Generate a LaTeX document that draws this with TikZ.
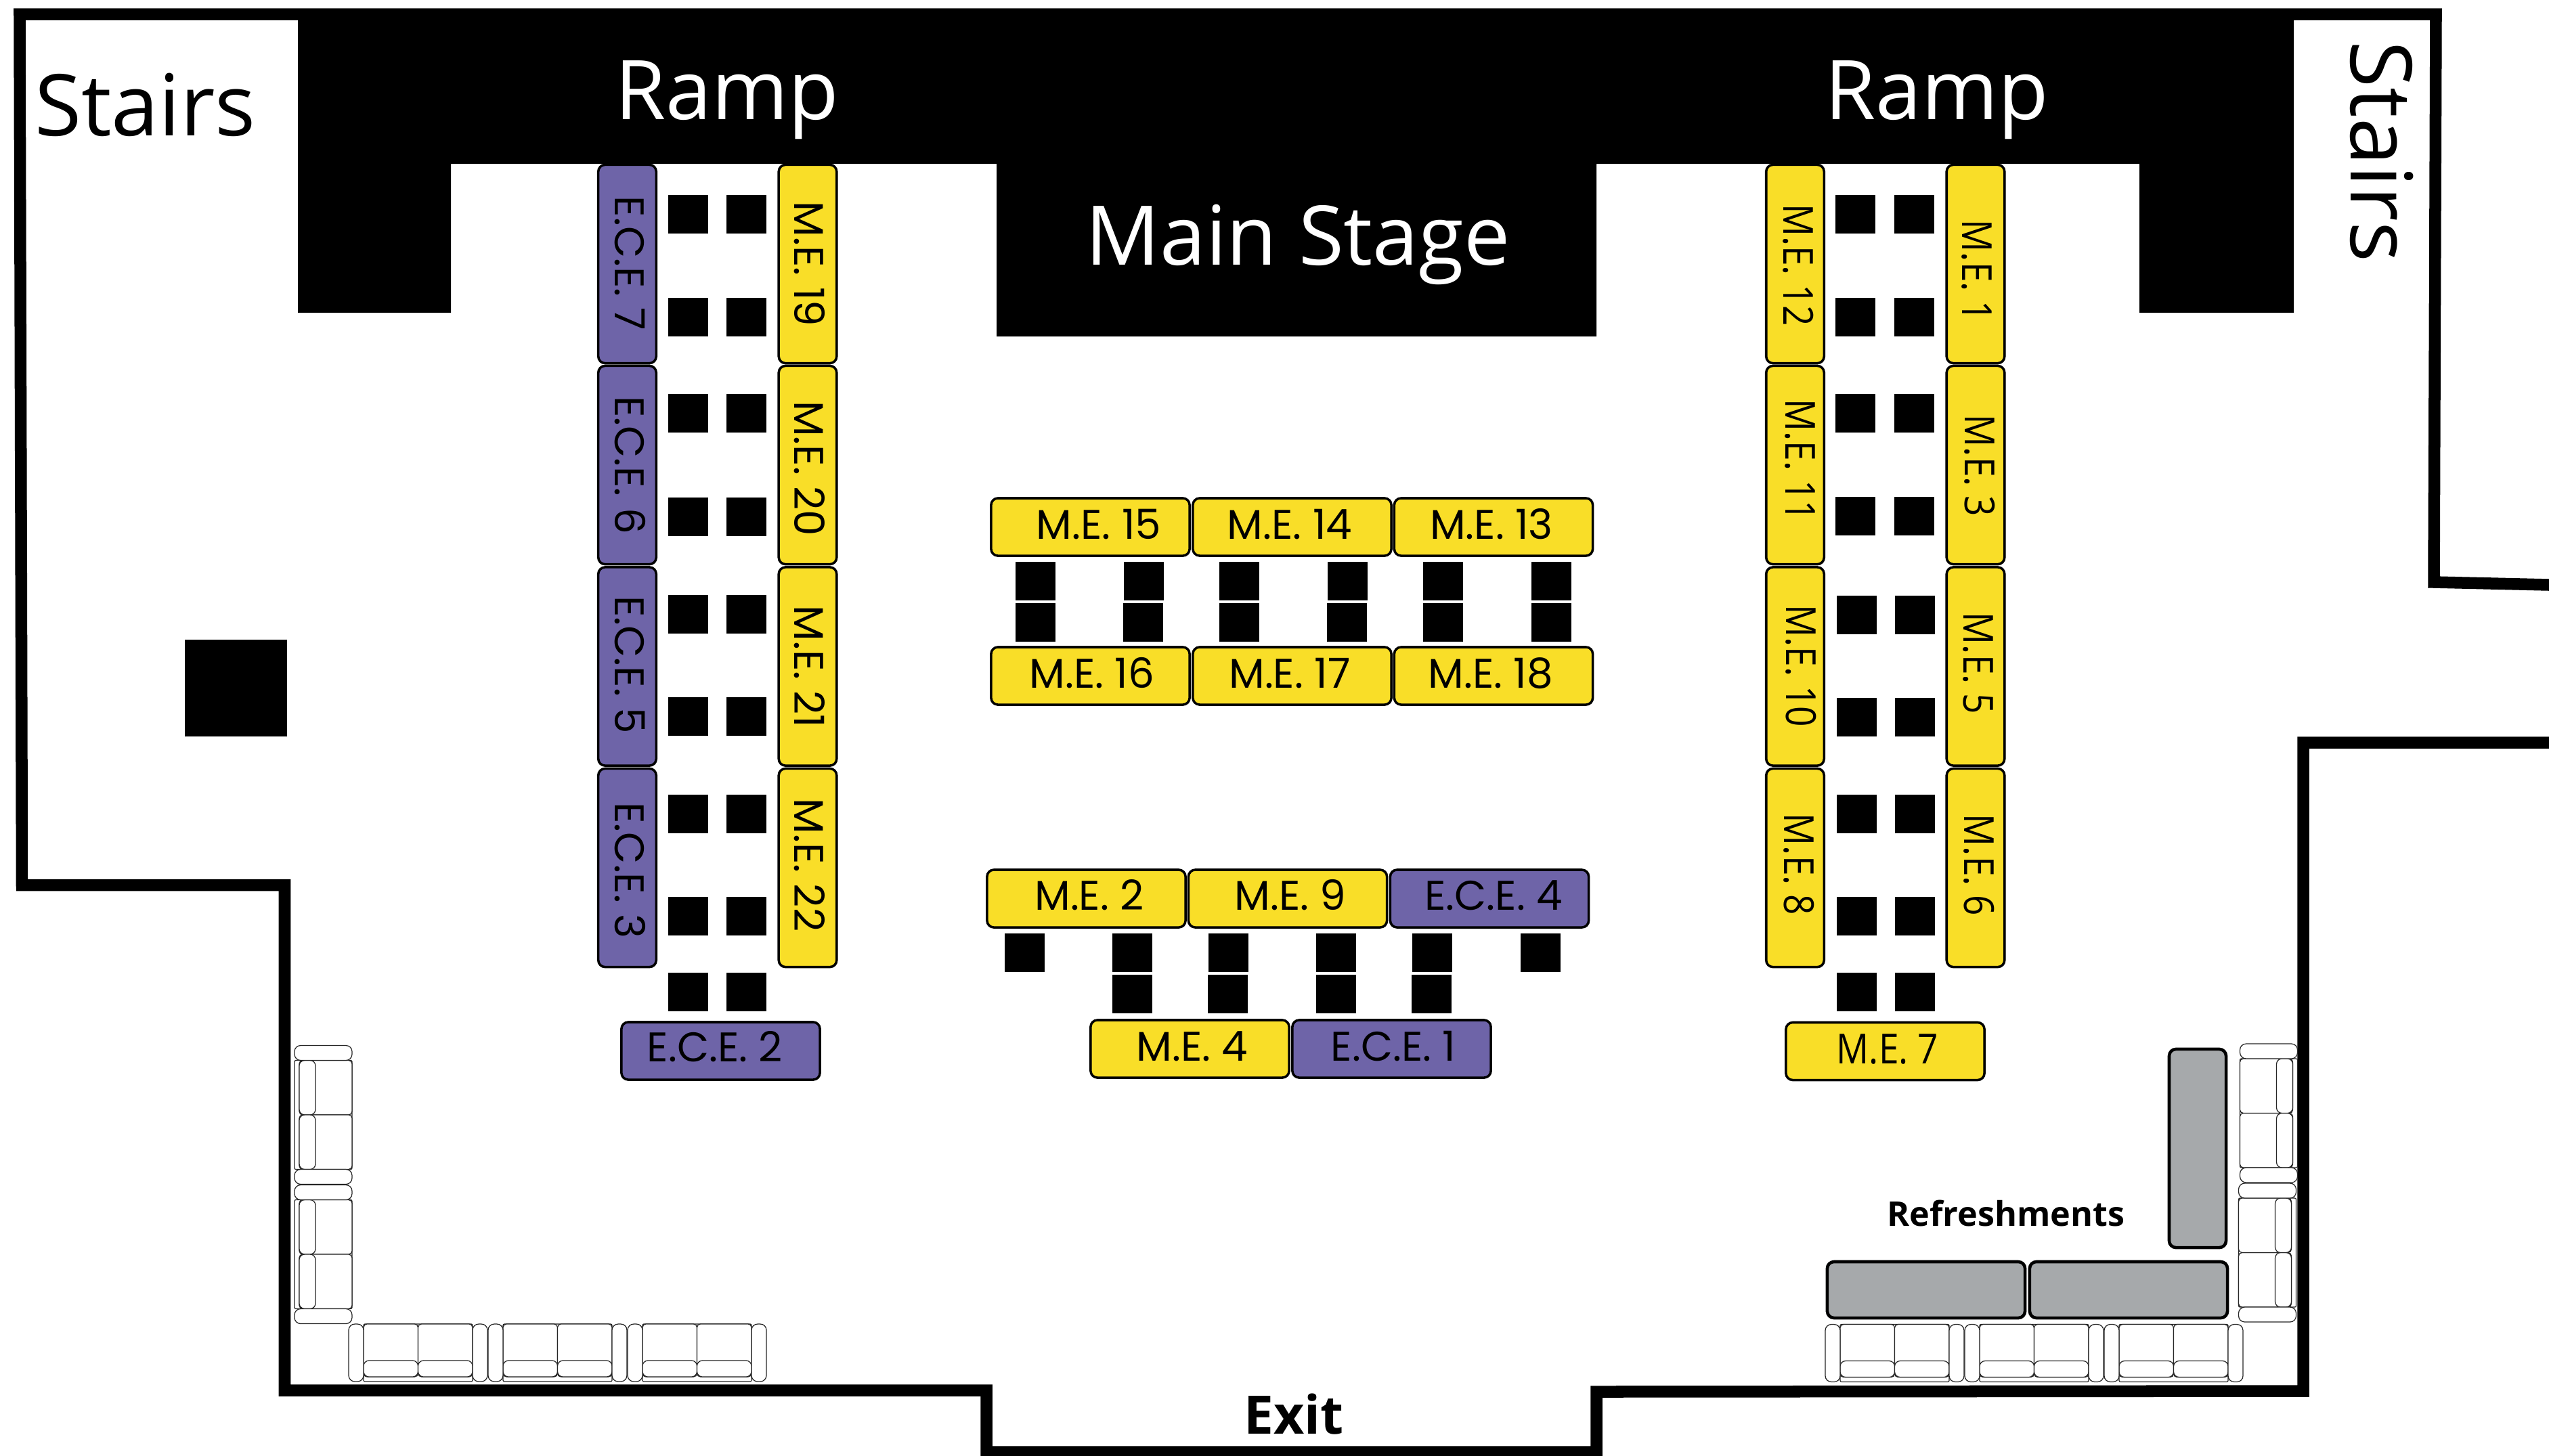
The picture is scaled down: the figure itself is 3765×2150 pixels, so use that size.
\documentclass[tikz,border=0pt]{standalone}
\usepackage{fontspec}
\setmainfont{Open Sans}
\newfontfamily\geofont{Poppins}
\newfontfamily\humfont[FakeStretch=0.87]{Open Sans}
\definecolor{stallyellow}{HTML}{F9DE28}
\definecolor{stallpurple}{HTML}{6E64A8}
\definecolor{tablegray}{HTML}{A6A9AB}
\tikzset{
  wall/.style={draw=black,line width=1.75mm,miter limit=10},
  stallbase/.style={draw=black,line width=1pt,rounded corners=0.1cm,inner sep=0pt},
  vbox/.style={stallbase,minimum width=0.855cm,minimum height=2.93cm},
  hbox/.style={stallbase,minimum width=2.93cm,minimum height=0.85cm},
  me/.style={fill=stallyellow},
  ece/.style={fill=stallpurple},
  lab/.style={inner sep=0pt,text height=12.2pt,text depth=0pt,font=\geofont\fontsize{17.4}{20}\selectfont},
  labh/.style={inner sep=0pt,text height=12.4pt,text depth=0pt,font=\humfont\fontsize{17.4}{20}\selectfont},
  big/.style={inner sep=0pt,anchor=base,font=\fontsize{34.6}{40}\selectfont},
  bigs/.style={inner sep=0pt,anchor=base,font=\fontsize{35.8}{40}\selectfont},
  tablebox/.style={draw=black,line width=1.3pt,fill=tablegray,rounded corners=0.1cm,inner sep=0pt},
  sofaline/.style={draw=black!85,line width=0.35pt,fill=white},
  pics/sofa/.style={code={
    \path[sofaline,rounded corners=0.02cm] (-80.5,-42.5) rectangle (80.5,42.5);
    \path[sofaline,rounded corners=0.05cm] (-80.5,-42.5) rectangle (0,35.5);
    \path[sofaline,rounded corners=0.05cm] (0,-42.5) rectangle (80.5,35.5);
    \path[sofaline,rounded corners=0.08cm] (-80.5,11.5) rectangle (0,35.5);
    \path[sofaline,rounded corners=0.08cm] (0,11.5) rectangle (80.5,35.5);
    \path[sofaline,rounded corners=0.09cm] (-102.5,-42.5) rectangle (-80.5,42.5);
    \path[sofaline,rounded corners=0.09cm] (80.5,-42.5) rectangle (102.5,42.5);
  }}
}
\begin{document}
\begin{tikzpicture}[x=0.01cm,y=-0.01cm]
\useasboundingbox (0,0) rectangle (3765,2150);
\fill[white] (0,0) rectangle (3765,2150);
% stage and ramps
\fill[black] (440,21) -- (3388,21) -- (3388,462) -- (3160,462) -- (3160,242) -- (2358,242) -- (2358,497) -- (1472,497) -- (1472,242) -- (666,242) -- (666,462) -- (440,462) -- cycle;
% walls
\path[wall] (3765,864) -- (3595,860) -- (3598,21) -- (29,21) -- (32.5,1307.5) -- (420.5,1307.5) -- (420.5,2054) -- (1457,2054) -- (1457,2145) -- (2358,2145) -- (2358,2056) -- (3402,2055) -- (3402,1097) -- (3765,1097);
% pillar
\fill[black] (273,945) rectangle (424,1088);
% seats
\foreach \ya/\yb in {288/345,440/497,582/639,735/792,879/936,1030/1087,1174/1231,1325/1382,1437/1494}{
  \fill[black] (987,\ya) rectangle (1046,\yb);
  \fill[black] (1073,\ya) rectangle (1132,\yb);
}
\foreach \ya/\yb in {288/345,440/497,582/639,734/791}{
  \fill[black] (2711,\ya) rectangle (2770,\yb);
  \fill[black] (2798,\ya) rectangle (2857,\yb);
}
\foreach \ya/\yb in {880/937,1031/1088,1174/1231,1325/1382,1437/1494}{
  \fill[black] (2713,\ya) rectangle (2772,\yb);
  \fill[black] (2799,\ya) rectangle (2858,\yb);
}
\foreach \xa/\xb in {1500/1559,1660/1719,1801/1860,1961/2020,2102/2161,2262/2321}{
  \fill[black] (\xa,830) rectangle (\xb,887);
}
\foreach \xa/\xb in {1500/1559,1659/1718,1801/1860,1960/2019,2102/2161,2262/2321}{
  \fill[black] (\xa,891) rectangle (\xb,948);
}
\foreach \xa/\xb in {1484/1543,1643/1702,1785/1844,1944/2003,2086/2145,2246/2305}{
  \fill[black] (\xa,1379) rectangle (\xb,1436);
}
\foreach \xa/\xb in {1643/1702,1784/1843,1944/2003,2085/2144}{
  \fill[black] (\xa,1440) rectangle (\xb,1497);
}
% left columns
\foreach \n/\cy/\ty/\t in {e7/390/389/E.C.E. 7,e6/687/687/E.C.E. 6,e5/984.5/982/E.C.E. 5,e3/1282/1286/E.C.E. 3}{
  \node[vbox,ece] (\n) at (926.5,\cy) {};
  \node[lab,rotate=-90] (\n t) at (930,\ty) {\t};
}
\foreach \n/\cy/\ty/\t in {m19/390/390/M.E. 19,m20/687/692/M.E. 20,m21/984.5/985/M.E. 21,m22/1282/1278/M.E. 22}{
  \node[vbox,me] (\n) at (1193,\cy) {};
  \node[lab,rotate=-90] (\n t) at (1195,\ty) {\t};
}
% right columns
\foreach \n/\cy/\tx/\ty/\t in {m12/390/2656/391.5/M.E. 12,m11/687/2659/680/M.E. 11,m10/984.5/2660/984/M.E. 10,m8/1282/2657/1277/M.E. 8}{
  \node[vbox,me] (\n) at (2651.5,\cy) {};
  \node[labh,rotate=-90] (\n t) at (\tx,\ty) {\t};
}
\foreach \n/\cy/\tx/\ty/\t in {m1/390/2920/400/M.E. 1,m3/687/2924/688/M.E. 3,m5/984.5/2922/980/M.E. 5,m6/1282/2923/1278/M.E. 6}{
  \node[vbox,me] (\n) at (2918,\cy) {};
  \node[labh,rotate=-90] (\n t) at (\tx,\ty) {\t};
}
% centre upper
\foreach \n/\cx/\cy/\tx/\ty/\t in {m15/1610.5/778.5/1623/775/M.E. 15,m14/1908.5/778.5/1905/775/M.E. 14,m13/2206/778.5/2203/775/M.E. 13,m16/1610.5/998.5/1613/995/M.E. 16,m17/1908.5/998.5/1905/995/M.E. 17,m18/2206/998.5/2202/995/M.E. 18}{
  \node[hbox,me] (\n) at (\cx,\cy) {};
  \node[lab] (\n t) at (\tx,\ty) {\t};
}
% centre lower and ends
\foreach \n/\cx/\cy/\tx/\ty/\t in {m2/1604.5/1327.5/1609/1323/M.E. 2,m9/1902/1327.5/1906/1323/M.E. 9,m4/1757.5/1549.5/1761/1546/M.E. 4}{
  \node[hbox,me] (\n) at (\cx,\cy) {};
  \node[lab] (\n t) at (\tx,\ty) {\t};
}
\foreach \n/\cx/\cy/\tx/\ty/\t in {e4/2200/1327.5/2206/1323/E.C.E. 4,e1/2055.5/1549.5/2058/1546/E.C.E. 1,e2/1064.5/1552.5/1056/1547/E.C.E. 2}{
  \node[hbox,ece] (\n) at (\cx,\cy) {};
  \node[lab] (\n t) at (\tx,\ty) {\t};
}
\node[hbox,me] (m7) at (2784.5,1553) {};
\node[labh] (m7t) at (2788,1550) {M.E. 7};
% refreshment tables
\node[tablebox,minimum width=0.84cm,minimum height=2.93cm] (tv) at (3246,1696.5) {};
\node[tablebox,minimum width=2.92cm,minimum height=0.83cm] (th1) at (2845,1905.5) {};
\node[tablebox,minimum width=2.92cm,minimum height=0.83cm] (th2) at (3144,1905.5) {};
% sofas
\pic[rotate=-90] (sl1) at (477.5,1647) {sofa};
\pic[rotate=-90] (sl2) at (477.5,1853) {sofa};
\pic (sb1) at (617.5,1998.5) {sofa};
\pic (sb2) at (823.5,1998.5) {sofa};
\pic (sb3) at (1029.5,1998.5) {sofa};
\pic[rotate=90] (sr1) at (3351,1644.5) {sofa};
\pic[rotate=90] (sr2) at (3349,1850.5) {sofa};
\pic (sc1) at (2798.5,1999) {sofa};
\pic (sc2) at (3004.5,1999) {sofa};
\pic (sc3) at (3210.5,1999) {sofa};
% big labels
\node[bigs] (st1) at (214.5,200) {Stairs};
\node[bigs,rotate=-90] (st2) at (3472,224) {Stairs};
\node[big,text=white] (r1) at (1074,176) {Ramp};
\node[big,text=white] (r2) at (2861,176) {Ramp};
\node[big,text=white] (ms) at (1917,391) {Main Stage};
\node[inner sep=0pt,anchor=base,font=\bfseries\fontsize{14.3}{17}\selectfont] (rf) at (2963,1811) {Refreshments};
\node[inner sep=0pt,anchor=base,font=\bfseries\fontsize{22.3}{26}\selectfont] (ex) at (1911,2118) {Exit};
\end{tikzpicture}
\end{document}
